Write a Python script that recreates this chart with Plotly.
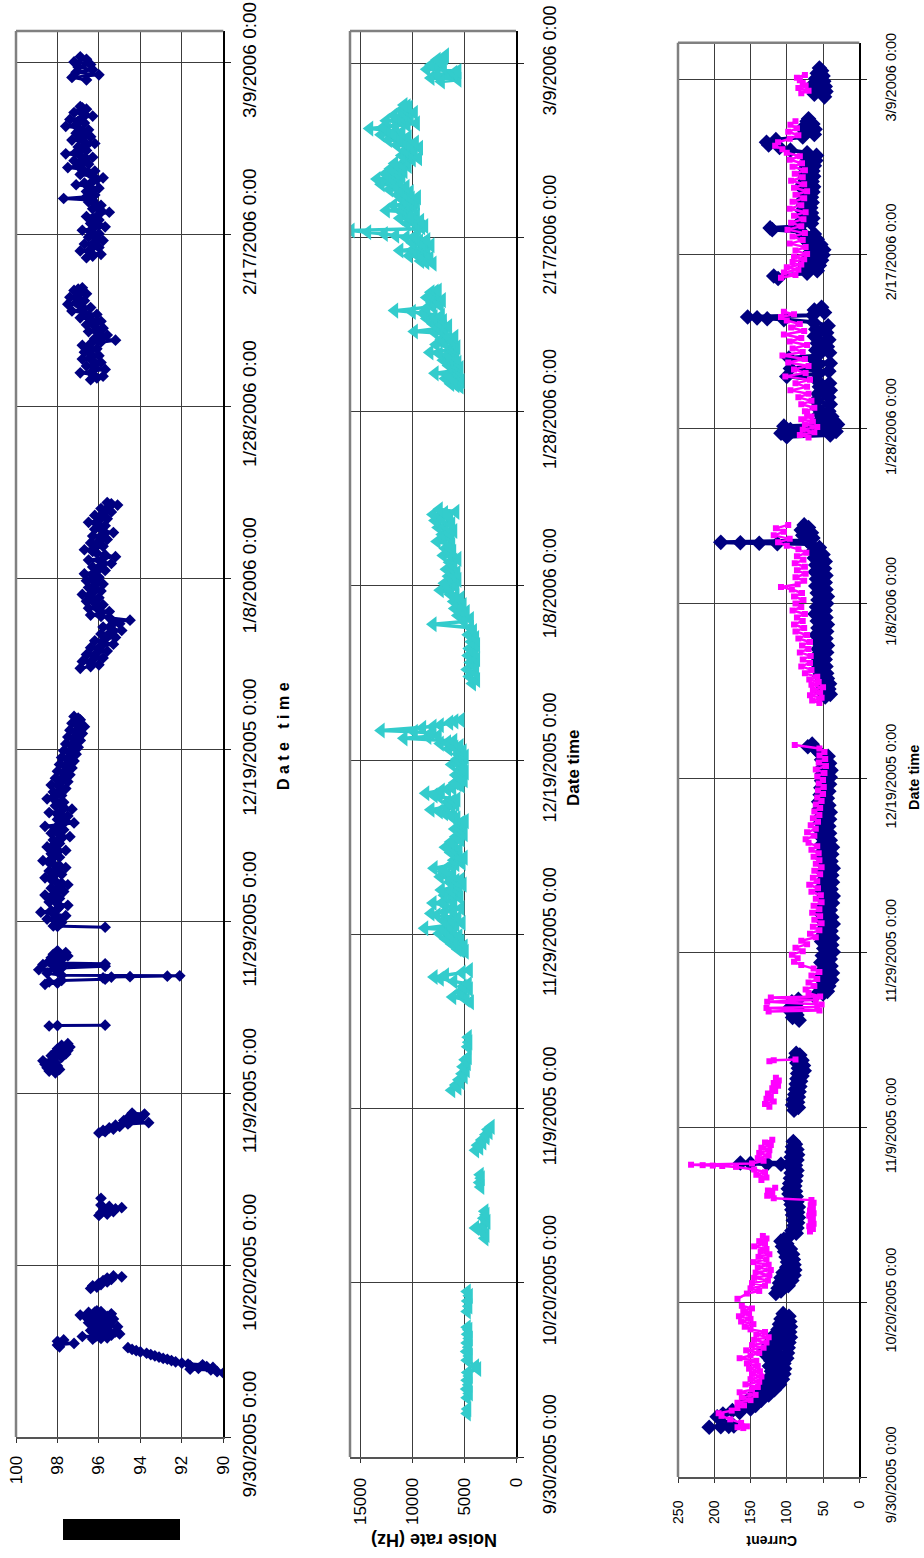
import plotly.graph_objects as go
import pandas as pd

# ---------------- data (day = days after 9/30/2005 0:00) ----------------
BASE = pd.Timestamp("2005-09-30")

tick_days = [0, 20, 40, 60, 80, 100, 120, 140, 160]
tick_text = ["9/30/2005 0:00", "10/20/2005 0:00", "11/9/2005 0:00", "11/29/2005 0:00",
             "12/19/2005 0:00", "1/8/2006 0:00", "1/28/2006 0:00", "2/17/2006 0:00",
             "3/9/2006 0:00"]

# Panel 1 (navy diamonds), value axis 90..100
p1_a = [(7.45, 90.0), (7.6, 90.3), (7.8, 90.6), (7.9, 91.6), (8.0, 91.2), (8.1, 90.5), (8.2, 90.8),
        (8.3, 91.6), (8.4, 91.0), (8.5, 91.7), (8.6, 92.0), (8.75, 92.3), (8.9, 92.5), (9.05, 92.7),
        (9.15, 92.9), (9.3, 93.1), (9.45, 93.3), (9.6, 93.5), (9.75, 93.7), (9.9, 94.0), (10.05, 94.2),
        (10.2, 94.4), (10.4, 94.6)]
p1_b = [(10.5, 97.9), (10.7, 98.0), (10.9, 97.2), (11.0, 97.8), (11.15, 98.0), (11.3, 97.7)]
p1_c = [(11.4, 96.3), (11.55, 95.6), (11.7, 96.8), (11.85, 95.4), (12.0, 95.0), (12.1, 96.1), (12.25, 95.2),
        (12.4, 96.4), (12.55, 95.6), (12.7, 96.0), (12.85, 95.1), (13.0, 96.3), (13.15, 95.5), (13.3, 96.5),
        (13.45, 95.4), (13.6, 96.2), (13.75, 95.3), (13.9, 96.6), (14.05, 95.6), (14.2, 96.9), (14.35, 95.4),
        (14.5, 96.5), (14.6, 95.9), (14.7, 96.1)]
p1_c_in = [(11.47, 95.9), (11.62, 96.2), (11.77, 96.1), (11.92, 95.8), (12.17, 95.7), (12.32, 95.8),
           (12.47, 96.0), (12.62, 95.8), (12.77, 95.6), (12.92, 95.7), (13.07, 95.9), (13.22, 96.0),
           (13.37, 95.9), (13.52, 95.8), (13.67, 95.8), (13.82, 96.0), (13.97, 96.1), (14.12, 96.3),
           (14.27, 96.2), (14.42, 95.9), (14.55, 96.2)]
p1_d = [(17.3, 96.4), (17.45, 96.1), (17.6, 96.3), (17.75, 95.9), (17.9, 96.0), (18.05, 95.6), (18.2, 95.8),
        (18.35, 95.4), (18.5, 95.6), (18.65, 94.9), (18.75, 95.3)]
p1_e = [(25.8, 96.0), (25.95, 95.6), (26.1, 95.9), (26.25, 95.3), (26.4, 95.7), (26.55, 95.2), (26.7, 94.9),
        (26.85, 95.5), (27.0, 95.9)]
p1_e2 = [(27.8, 95.9)]
p1_f = [(35.4, 96.0), (35.55, 95.7), (35.7, 95.8), (35.85, 95.3), (36.0, 95.5), (36.15, 95.0), (36.3, 95.2),
        (36.45, 94.6), (36.6, 93.6), (36.7, 94.5), (36.85, 94.8), (37.0, 94.2), (37.15, 94.6), (37.3, 93.9),
        (37.45, 94.3), (37.6, 93.8), (37.7, 94.4)]
p1_g = [(42.4, 98.1), (42.6, 98.4), (42.8, 97.9), (43.0, 98.5), (43.2, 98.0), (43.4, 98.6), (43.6, 98.1),
        (43.8, 98.7), (44.0, 98.2), (44.2, 97.8), (44.4, 98.3), (44.6, 97.6), (44.8, 98.1), (45.0, 97.5),
        (45.2, 98.0), (45.4, 97.4), (45.6, 97.8), (45.8, 97.5)]
p1_h = [(47.85, 98.4), (47.9, 98.0), (47.95, 95.7)]
p1_i = [(52.7, 98.6), (52.85, 98.0), (53.0, 98.4), (53.15, 97.8), (53.3, 95.7), (53.45, 95.8), (53.55, 95.4),
        (53.6, 94.5), (53.65, 92.7), (53.7, 92.1), (53.75, 97.8), (54.0, 98.5), (54.2, 98.0), (54.4, 98.9),
        (54.6, 97.8), (54.8, 95.7), (54.9, 98.2), (55.0, 98.7), (55.1, 95.7), (55.2, 98.0), (55.4, 98.4),
        (55.6, 97.8), (55.8, 98.3), (56.0, 97.5), (56.2, 98.2), (56.4, 97.6), (56.6, 98.0)]
p1_j = [(59.35, 95.7), (59.45, 98.0), (59.5, 98.2), (59.9, 97.8), (60.3, 98.5), (60.7, 97.6), (61.1, 98.8),
        (61.5, 98.0), (61.9, 97.5), (62.3, 98.4), (62.7, 97.9), (63.1, 98.6), (63.5, 97.7), (63.9, 98.3),
        (64.3, 97.5), (64.7, 98.1), (65.1, 98.6), (65.5, 97.8), (65.9, 98.4), (66.3, 97.6), (66.7, 98.2),
        (67.1, 98.7), (67.5, 97.9), (67.9, 98.3), (68.3, 97.6), (68.7, 98.5), (69.1, 97.9), (69.5, 98.2),
        (69.9, 97.4), (70.3, 98.3), (70.7, 97.7), (71.1, 98.6), (71.5, 97.2), (71.9, 98.0), (72.3, 97.5),
        (72.7, 98.4), (73.1, 97.3), (73.5, 98.1), (73.9, 97.7), (74.3, 98.5), (74.7, 97.8), (75.1, 98.2),
        (75.5, 97.6), (75.9, 98.3), (76.3, 97.5), (76.7, 98.1), (77.1, 97.4), (77.5, 98.0), (77.9, 97.3),
        (78.3, 97.9), (78.7, 97.2), (79.1, 97.8), (79.5, 97.1), (79.9, 97.7), (80.3, 97.0), (80.7, 97.6),
        (81.1, 96.9), (81.5, 97.5), (81.9, 96.8), (82.3, 97.4), (82.7, 96.7), (83.1, 97.3), (83.5, 96.9),
        (83.9, 97.2)]
p1_j_in = [(59.7, 98.0), (60.1, 98.1), (60.5, 98.0), (60.9, 98.2), (61.3, 98.3), (61.7, 97.9), (62.1, 98.0),
           (62.5, 98.1), (62.9, 98.2), (63.3, 98.1), (63.7, 98.0), (64.1, 97.9), (64.5, 97.8), (64.9, 98.3),
           (65.3, 98.2), (65.7, 98.1), (66.1, 98.0), (66.5, 97.9), (66.9, 98.4), (67.3, 98.3), (67.7, 98.1),
           (68.1, 98.0), (68.5, 98.1), (68.9, 98.2), (69.3, 98.0), (69.7, 97.8), (70.1, 97.9), (70.5, 98.0),
           (70.9, 98.1), (71.3, 97.9), (71.7, 97.6), (72.1, 97.7), (72.5, 98.0), (72.9, 97.8), (73.3, 97.7),
           (73.7, 97.9), (74.1, 98.1), (74.5, 98.2), (74.9, 98.0), (75.3, 97.9), (75.7, 97.9), (76.1, 97.9),
           (76.5, 97.8), (76.9, 97.7), (77.3, 97.7), (77.7, 97.6), (78.1, 97.6), (78.5, 97.5), (78.9, 97.5),
           (79.3, 97.4), (79.7, 97.4), (80.1, 97.3), (80.5, 97.3), (80.9, 97.2), (81.3, 97.2), (81.7, 97.1),
           (82.1, 97.1), (82.5, 97.0), (82.9, 97.0), (83.3, 97.1), (83.7, 97.0)]
p1_k = [(89.5, 96.9), (89.9, 96.0), (90.3, 96.8), (90.7, 95.8), (91.1, 96.6), (91.5, 95.6), (91.9, 96.4),
        (92.3, 95.3), (92.7, 96.2), (93.1, 95.2), (93.5, 95.9), (93.9, 94.9), (94.3, 95.8), (94.7, 95.0),
        (95.1, 94.5), (95.4, 95.5), (95.7, 96.4), (96.1, 95.5), (96.5, 96.5), (96.9, 95.8), (97.3, 96.6),
        (97.7, 96.0), (98.1, 96.8), (98.5, 95.9), (98.9, 96.5), (99.3, 95.8), (99.7, 96.6), (100.1, 96.0),
        (100.5, 96.7), (100.9, 95.7), (101.3, 96.3), (101.7, 95.4), (102.1, 96.5), (102.5, 95.2),
        (102.9, 96.1), (103.3, 96.7), (103.7, 95.8), (104.1, 96.4), (104.5, 95.6), (104.9, 96.3),
        (105.3, 95.3), (105.7, 96.2), (106.1, 95.7), (106.5, 96.5), (106.9, 95.6), (107.3, 96.2),
        (107.7, 95.4), (108.1, 95.9), (108.5, 95.1), (108.8, 95.6)]
p1_k_in = [(89.7, 96.4), (90.1, 96.4), (90.5, 96.3), (90.9, 96.2), (91.3, 96.1), (91.7, 96.0), (92.1, 95.9),
           (92.5, 95.8), (92.9, 95.7), (93.3, 95.6), (93.7, 95.4), (94.1, 95.4), (94.5, 95.4), (94.9, 95.3),
           (95.55, 95.9), (95.9, 95.9), (96.3, 96.0), (96.7, 96.1), (97.1, 96.2), (97.5, 96.3), (97.9, 96.4),
           (98.3, 96.3), (98.7, 96.2), (99.1, 96.2), (99.5, 96.2), (99.9, 96.3), (100.3, 96.3), (100.7, 96.2),
           (101.1, 96.0), (101.5, 95.9), (101.9, 95.9), (102.3, 95.8), (102.7, 95.7), (103.1, 96.3),
           (103.5, 96.2), (103.9, 96.1), (104.3, 96.0), (104.7, 95.9), (105.1, 95.8), (105.5, 95.8),
           (105.9, 95.9), (106.3, 96.1), (106.7, 96.0), (107.1, 95.9), (107.5, 95.8), (107.9, 95.7),
           (108.3, 95.5), (108.65, 95.4)]
p1_l = [(123.1, 96.4), (123.5, 95.8), (123.9, 96.9), (124.3, 95.7), (124.7, 96.6), (125.1, 95.9),
        (125.5, 96.8), (125.9, 96.0), (126.3, 96.7), (126.7, 96.1), (127.1, 96.8), (127.5, 95.9),
        (127.7, 95.2), (127.9, 96.2), (128.3, 95.6), (128.7, 96.5), (129.1, 95.8), (129.5, 96.6),
        (129.9, 95.9), (130.3, 96.9), (130.7, 96.1), (131.1, 97.3), (131.5, 96.4), (131.9, 97.5),
        (132.3, 96.7), (132.7, 97.4), (133.1, 96.6), (133.5, 97.2), (133.8, 96.8)]
p1_l_in = [(123.3, 96.1), (123.7, 96.3), (124.1, 96.3), (124.5, 96.2), (124.9, 96.2), (125.3, 96.3),
           (125.7, 96.4), (126.1, 96.4), (126.5, 96.4), (126.9, 96.5), (127.3, 96.4), (128.1, 95.9),
           (128.5, 96.0), (128.9, 96.1), (129.3, 96.2), (129.7, 96.2), (130.1, 96.4), (130.5, 96.5),
           (130.9, 96.7), (131.3, 96.8), (131.7, 96.9), (132.1, 97.1), (132.5, 97.0), (132.9, 97.0),
           (133.3, 96.9), (133.65, 97.0)]
p1_m = [(137.3, 96.6), (137.7, 95.9), (138.1, 96.9), (138.5, 96.0), (138.9, 96.7), (139.3, 95.8),
        (139.7, 96.5), (140.1, 96.0), (140.5, 96.8), (140.9, 95.7), (141.3, 96.4), (141.7, 96.0),
        (142.1, 96.6), (142.6, 95.5), (143.0, 96.3), (143.4, 95.9), (143.8, 96.5), (144.2, 97.7),
        (144.6, 96.2), (145.0, 96.6), (145.4, 96.0), (145.8, 97.1), (146.2, 96.3), (146.6, 95.8),
        (147.0, 96.9), (147.4, 96.2), (147.8, 97.5), (148.2, 96.5), (148.6, 97.2), (149.0, 96.3),
        (149.4, 97.6), (149.8, 96.6), (150.2, 97.0), (150.6, 96.2), (151.0, 97.3), (151.4, 96.4),
        (151.8, 97.1), (152.2, 96.5), (152.6, 97.6), (153.0, 96.7), (153.4, 97.4), (153.8, 96.3),
        (154.2, 97.2), (154.6, 96.6), (154.9, 96.9)]
p1_m_in = [(137.5, 96.3), (137.9, 96.4), (138.3, 96.4), (138.7, 96.3), (139.1, 96.2), (139.5, 96.1),
           (139.9, 96.2), (140.3, 96.4), (140.7, 96.3), (141.1, 96.0), (141.5, 96.2), (141.9, 96.3),
           (142.35, 96.0), (142.8, 95.9), (143.2, 96.1), (143.6, 96.2), (144.0, 96.3), (144.4, 96.6),
           (144.8, 96.4), (145.2, 96.3), (145.6, 96.5), (146.0, 96.7), (146.4, 96.1), (146.8, 96.3),
           (147.2, 96.5), (147.6, 96.8), (148.0, 97.0), (148.4, 96.8), (148.8, 96.7), (149.2, 96.9),
           (149.6, 97.1), (150.0, 96.8), (150.4, 96.6), (150.8, 96.7), (151.2, 96.9), (151.6, 96.7),
           (152.0, 96.8), (152.4, 97.0), (152.8, 97.1), (153.2, 97.0), (153.6, 96.8), (154.0, 96.7),
           (154.4, 96.9), (154.75, 96.8)]
p1_n = [(158.0, 96.6), (158.3, 97.3), (158.6, 96.0), (158.9, 97.1), (159.2, 96.3), (159.5, 97.0),
        (159.8, 96.4), (160.1, 97.2), (160.4, 96.6), (160.7, 96.9)]

# Panel 2 (turquoise triangles), noise rate in Hz
p2_a = [(5.0, 4700), (5.5, 4650)]
p2_b = [(6.8, 4700), (7.3, 4500), (7.8, 4750), (8.3, 4550), (8.8, 4700), (9.3, 4500), (9.7, 4650),
        (10.1, 3700), (10.4, 3900), (11.1, 4700), (11.6, 4500), (12.1, 4750), (12.6, 4550), (13.1, 4700),
        (13.6, 4500), (14.1, 4650), (14.6, 4550), (14.9, 4700)]
p2_c = [(16.7, 4700), (17.3, 4550), (17.9, 4650), (18.5, 4500), (19.0, 4700)]
p2_d = [(25.1, 3000), (25.5, 2900), (25.9, 3300), (26.3, 3900), (26.6, 3100), (27.0, 2800), (27.4, 3100),
        (27.8, 2900), (28.2, 3000)]
p2_e = [(31.0, 3400), (31.5, 3500), (32.0, 3350), (32.4, 3450)]
p2_f = [(35.2, 3900), (35.5, 3500), (35.8, 3700), (36.1, 3200), (36.4, 3300), (36.7, 2900), (37.0, 2900),
        (37.3, 2600), (37.6, 2700), (37.9, 2400)]
p2_g = [(42.1, 6200), (42.4, 5600), (42.7, 5800), (43.0, 5300), (43.3, 5500), (43.7, 5000), (44.0, 5200),
        (44.4, 4800), (44.8, 5100), (45.2, 4700), (45.6, 4900), (45.9, 4600)]
p2_h = [(47.1, 4650), (47.6, 4550), (48.2, 4600)]
p2_i = [(52.2, 4400), (52.5, 4800), (52.8, 6100), (53.1, 5000), (53.4, 5400), (53.7, 4500), (54.0, 5100),
        (54.3, 4600), (54.6, 6000), (54.9, 7300), (55.1, 7900), (55.3, 6800), (55.6, 5200), (55.9, 4500)]
p2_j = [(58.0, 4900), (58.3, 5600), (58.6, 5000), (58.9, 6200), (59.2, 5300), (59.5, 6800), (59.8, 5500),
        (60.1, 7400), (60.4, 6000), (60.7, 8800), (61.0, 6500), (61.3, 5200), (61.6, 7000), (61.9, 5600),
        (62.2, 7600), (62.4, 8200), (62.7, 6100), (63.0, 5300), (63.3, 6800), (63.6, 8000), (63.9, 6200),
        (64.2, 5400), (64.5, 6900), (64.8, 5500), (65.1, 7200), (65.4, 6000), (65.7, 5100), (66.0, 6400),
        (66.3, 5300), (66.6, 7300), (66.9, 6100), (67.2, 7000), (67.6, 7900), (67.9, 6300), (68.2, 5200),
        (68.5, 6000), (68.8, 5000), (69.1, 5600), (69.4, 6300), (69.7, 5500), (70.0, 6800), (70.3, 5900),
        (70.6, 6300), (70.9, 5300), (71.2, 5800), (71.5, 5000), (71.8, 5500), (72.1, 5900), (72.4, 5100),
        (72.7, 5400), (73.0, 4900), (73.3, 5700), (73.6, 6300), (73.9, 6900), (74.3, 8200), (74.6, 6700),
        (74.9, 5800), (75.2, 6600), (75.5, 5700), (75.8, 7400), (76.2, 8700), (76.5, 7200), (76.8, 6100),
        (77.1, 5300), (77.4, 5900), (77.7, 5000), (78.0, 5500), (78.3, 5800), (78.6, 4900), (78.9, 5400),
        (79.2, 5000), (79.5, 6200), (79.8, 5300), (80.1, 5700), (80.4, 4900), (80.7, 5600), (81.0, 5100),
        (81.3, 6500), (81.6, 5400), (81.9, 7300), (82.2, 6000), (82.5, 10800), (82.8, 7500), (83.1, 8200),
        (83.4, 13000), (83.7, 9000), (84.0, 7300), (84.3, 6400), (84.6, 5300)]
p2_j_in = [(58.15, 5300), (58.75, 5600), (59.35, 6000), (59.95, 6400), (60.55, 7000), (61.15, 5800),
           (61.75, 6300), (62.55, 6900), (63.15, 6000), (63.75, 7000), (64.35, 6100), (64.95, 6200),
           (65.55, 5600), (66.15, 5800), (66.75, 6700), (67.4, 6900), (68.05, 5800), (68.65, 5500),
           (69.25, 5900), (69.85, 6100), (70.45, 6100), (71.05, 5500), (71.65, 5300), (72.25, 5500),
           (72.85, 5200), (73.45, 6000), (74.1, 7400), (74.75, 6200), (75.35, 6100), (75.95, 7900),
           (76.65, 6600), (77.25, 5600), (77.85, 5200), (78.45, 5300), (79.05, 5200), (79.65, 5700),
           (80.25, 5300), (80.85, 5300), (81.45, 5900), (82.05, 6600), (82.65, 8500), (83.25, 9800),
           (83.85, 8000), (84.45, 5900)]
p2_k = [(88.8, 4200), (89.2, 3800), (89.6, 4500), (90.0, 3900), (90.4, 4700), (90.8, 3900), (91.2, 4400),
        (91.6, 3800), (92.0, 4600), (92.4, 4000), (92.8, 4500), (93.2, 3800), (93.6, 4300), (94.0, 3900),
        (94.4, 4600), (94.8, 4100), (95.2, 4400), (95.6, 8000), (95.9, 5000), (96.2, 4400), (96.6, 5600),
        (97.0, 4800), (97.4, 5900), (97.8, 5100), (98.2, 6000), (98.6, 5300), (99.0, 6300), (99.5, 7300),
        (99.9, 5800), (100.3, 6900), (100.7, 5600), (101.1, 6500), (101.5, 5700), (101.9, 6700),
        (102.3, 6000), (102.7, 6400), (103.1, 5600), (103.5, 7000), (103.9, 6100), (104.3, 6800),
        (104.7, 6200), (105.1, 7600), (105.5, 6300), (105.9, 7100), (106.3, 6000), (106.7, 7500),
        (107.1, 6200), (107.5, 7800), (107.9, 6400), (108.2, 8000), (108.5, 5800), (108.8, 7400)]
p2_k_in = [(96.4, 5000), (97.2, 5300), (98.0, 5500), (98.8, 5800), (99.7, 6500), (100.5, 6200),
           (101.3, 6100), (102.1, 6300), (102.9, 6000), (103.7, 6500), (104.5, 6500), (105.3, 6900),
           (106.1, 6500), (106.9, 6800), (107.7, 7100), (108.35, 6900)]
p2_l = [(122.9, 5400), (123.2, 6300), (123.5, 5300), (123.8, 6800), (124.1, 5500), (124.4, 7800),
        (124.7, 6000), (125.0, 5400), (125.3, 6500), (125.6, 5600), (125.9, 7000), (126.2, 5800),
        (126.5, 6600), (126.8, 8300), (127.1, 6300), (127.4, 5700), (127.7, 7700), (128.0, 6200),
        (128.3, 7200), (128.6, 5900), (128.9, 6800), (129.2, 9800), (129.5, 7400), (129.8, 6500),
        (130.1, 8000), (130.4, 7000), (130.7, 8600), (131.0, 7200), (131.3, 9000), (131.6, 11700),
        (131.9, 8600), (132.2, 7300), (132.5, 8100), (132.8, 7100), (133.1, 8600), (133.4, 7600),
        (133.7, 8200), (133.9, 7500)]
p2_l_in = [(123.05, 5800), (123.65, 6000), (124.25, 6600), (124.85, 5700), (125.45, 6000), (126.05, 6400),
           (126.65, 7400), (127.25, 6000), (127.85, 6900), (128.45, 6500), (129.05, 7800), (129.65, 7000),
           (130.25, 7500), (130.85, 7900), (131.45, 10000), (132.05, 8000), (132.65, 7600), (133.25, 8100),
           (133.8, 7800)]
p2_m = [(137.0, 8000), (137.3, 9200), (137.6, 8300), (137.9, 10300), (138.2, 8600), (138.5, 11200),
        (138.8, 9000), (139.1, 8200), (139.4, 10000), (139.7, 8600), (140.0, 10600), (140.2, 11600),
        (140.4, 12700), (140.6, 14300), (140.8, 15900), (141.0, 9500), (141.3, 8800), (141.6, 10500),
        (141.9, 9200), (142.2, 11200), (142.5, 9600), (142.8, 10900), (143.1, 12500), (143.4, 9800),
        (143.7, 11800), (144.0, 9600), (144.3, 10900), (144.6, 9500), (144.9, 11400), (145.2, 10200),
        (145.5, 12200), (145.8, 10600), (146.1, 13000), (146.4, 11200), (146.7, 13400), (147.0, 11000),
        (147.3, 12600), (147.6, 10800), (147.9, 12100), (148.2, 10400), (148.5, 11700), (148.8, 10600),
        (149.1, 9400), (149.4, 11000), (149.7, 9800), (150.0, 10700), (150.3, 9300), (150.6, 11500),
        (150.9, 9700), (151.2, 12300), (151.5, 10400), (151.8, 13000), (152.1, 11000), (152.5, 14100),
        (152.8, 11600), (153.1, 9600), (153.4, 12500), (153.7, 10200), (154.0, 11800), (154.3, 9800),
        (154.6, 11100), (154.9, 10300), (155.2, 10800)]
p2_m_in = [(137.15, 8700), (137.45, 8800), (137.75, 9300), (138.05, 9400), (138.35, 9800), (138.65, 9900),
           (138.95, 8600), (139.25, 9100), (139.55, 9300), (139.85, 9600), (140.1, 9800), (141.15, 9100),
           (141.45, 9600), (141.75, 9800), (142.05, 10100), (142.35, 10300), (142.65, 10200),
           (142.95, 10800), (143.25, 10900), (143.55, 10700), (143.85, 10600), (144.15, 10200),
           (144.45, 10100), (144.75, 10400), (145.05, 10800), (145.35, 11100), (145.65, 11300),
           (145.95, 11700), (146.25, 12000), (146.55, 12200), (146.85, 12100), (147.15, 11700),
           (147.45, 11600), (147.75, 11400), (148.05, 11200), (148.35, 11000), (148.65, 10500),
           (148.95, 10000), (149.25, 10200), (149.55, 10300), (149.85, 10200), (150.15, 10000),
           (150.45, 10300), (150.75, 10500), (151.05, 10900), (151.35, 11300), (151.65, 11600),
           (151.95, 11900), (152.3, 12400), (152.65, 12800), (152.95, 10500), (153.25, 11000),
           (153.55, 11200), (153.85, 11000), (154.15, 10800), (154.45, 10400), (154.75, 10700),
           (155.05, 10500)]
p2_n = [(157.9, 7200), (158.1, 5600), (158.3, 8200), (158.5, 5700), (158.7, 7600), (158.9, 6000),
        (159.1, 5600), (159.3, 8600), (159.5, 7000), (159.8, 8200), (160.1, 7100), (160.4, 7600),
        (160.7, 6900), (160.9, 6800)]

# Panel 3, navy diamonds (current)
p3n_a = [(5.7, 207), (5.75, 191), (5.8, 180), (5.85, 173), (6.9, 196), (7.2, 188), (7.4, 165), (7.6, 175),
         (7.8, 150), (8.0, 162), (8.2, 143), (8.5, 158), (8.8, 135), (9.1, 150), (9.4, 125), (9.7, 140),
         (10.0, 117), (10.3, 135), (10.6, 110), (10.9, 128), (11.2, 106), (11.5, 123), (11.8, 104),
         (12.1, 121), (12.4, 103), (12.7, 124), (13.0, 104), (13.3, 122), (13.6, 100), (13.9, 128),
         (14.2, 99), (14.5, 131), (14.8, 98), (15.1, 125), (15.4, 97), (15.7, 120), (16.0, 95), (16.3, 117),
         (16.6, 96), (16.9, 112), (17.2, 95), (17.5, 110), (17.8, 96), (18.1, 108), (18.4, 97), (18.7, 105)]
p3n_b = [(21.0, 115), (21.3, 108), (21.6, 112), (21.9, 98), (22.2, 110), (22.5, 93), (22.8, 108), (23.1, 90),
         (23.4, 105), (23.7, 89), (24.0, 100), (24.3, 90), (24.6, 99), (24.9, 91), (25.2, 101), (25.5, 92),
         (25.8, 103), (26.1, 95), (26.4, 106), (26.7, 100), (27.0, 108), (27.2, 104), (27.6, 96), (27.9, 87),
         (28.2, 93), (28.5, 86), (28.8, 90), (29.1, 85), (29.4, 91), (29.7, 84), (30.0, 92), (30.3, 85),
         (30.6, 93), (30.9, 84), (31.2, 94), (31.5, 86), (31.8, 96), (32.1, 87), (32.4, 97), (32.7, 88),
         (33.0, 98), (33.3, 89), (33.6, 96), (33.9, 88), (34.2, 95), (34.5, 87), (34.8, 94), (35.1, 86),
         (35.4, 93), (35.7, 88), (35.8, 108), (35.85, 127), (35.9, 150), (35.95, 164), (36.0, 95),
         (36.3, 86), (36.6, 94), (36.9, 85), (37.2, 93), (37.5, 86), (37.8, 92), (38.1, 88), (38.4, 91)]
p3n_c = [(42.0, 90), (42.3, 84), (42.6, 92), (42.9, 85), (43.2, 91), (43.5, 84), (43.8, 89), (44.1, 83),
         (44.4, 88), (44.7, 82), (45.0, 87), (45.3, 81), (45.6, 86), (45.9, 79), (46.2, 85), (46.5, 76),
         (46.8, 84), (47.1, 77), (47.4, 86), (47.7, 79), (48.0, 88), (48.3, 82), (48.5, 87)]
p3n_d = [(52.3, 83), (52.6, 92), (52.9, 86), (53.2, 94), (53.5, 85), (53.8, 95), (54.1, 87), (54.4, 93),
         (54.7, 84), (55.0, 62), (55.3, 50), (55.6, 44), (55.9, 53), (56.2, 42), (56.5, 50), (56.9, 38),
         (57.3, 52), (57.7, 37), (58.1, 50), (58.5, 39), (58.9, 53), (59.3, 40), (59.7, 51), (60.1, 36),
         (60.5, 49), (60.9, 38), (61.3, 52), (61.7, 37), (62.1, 50), (62.5, 39), (62.9, 48), (63.3, 36),
         (63.7, 51), (64.1, 38), (64.5, 53), (64.9, 40), (65.3, 50), (65.7, 37), (66.1, 49), (66.5, 36),
         (66.9, 52), (67.3, 39), (67.7, 50), (68.1, 37), (68.5, 48), (68.9, 38), (69.3, 51), (69.7, 36),
         (70.1, 49), (70.5, 39), (70.9, 52), (71.3, 38), (71.7, 50), (72.1, 37), (72.5, 51), (72.9, 40),
         (73.3, 53), (73.7, 41), (74.1, 55), (74.5, 42), (74.9, 54), (75.3, 41), (75.7, 52), (76.1, 40),
         (76.5, 55), (76.9, 42), (77.3, 56), (77.7, 44), (78.1, 54), (78.5, 42), (78.9, 53), (79.3, 41),
         (79.7, 52), (80.1, 40), (80.5, 51), (80.9, 39), (81.3, 50), (81.7, 41), (82.1, 52), (82.5, 43),
         (82.9, 55), (83.3, 60), (83.6, 71), (83.9, 65)]
p3n_e = [(89.3, 47), (89.6, 40), (89.9, 52), (90.2, 42), (90.5, 50), (90.8, 41), (91.1, 51), (91.4, 44),
         (91.7, 55), (92.0, 45), (92.4, 58), (92.8, 46), (93.2, 60), (93.6, 47), (94.0, 59), (94.4, 45),
         (94.8, 57), (95.2, 44), (95.6, 58), (96.0, 46), (96.4, 60), (96.8, 45), (97.2, 57), (97.6, 44),
         (98.0, 58), (98.4, 46), (98.8, 61), (99.2, 47), (99.6, 59), (100.0, 45), (100.4, 57), (100.8, 44),
         (101.2, 58), (101.6, 46), (102.0, 60), (102.4, 47), (102.8, 59), (103.2, 46), (103.6, 61),
         (104.0, 48), (104.4, 60), (104.8, 47), (105.2, 62), (105.6, 50), (106.0, 64), (106.4, 55),
         (106.8, 67), (106.85, 113), (106.9, 138), (106.95, 164), (107.0, 191), (107.2, 72), (107.5, 64),
         (107.8, 78), (108.1, 66), (108.4, 80), (108.7, 70), (109.0, 76)]
p3n_f = [(119.1, 100), (119.3, 40), (119.5, 108), (119.7, 32), (119.9, 95), (120.1, 45), (120.3, 104),
         (120.5, 30), (120.7, 58), (120.9, 35), (121.1, 50), (121.4, 38), (121.7, 55), (122.0, 42),
         (122.4, 58), (122.8, 40), (123.2, 60), (123.6, 42), (124.0, 57), (124.4, 40), (124.8, 55),
         (125.2, 41), (125.6, 59), (126.0, 100), (126.3, 56), (126.6, 42), (126.9, 95), (127.2, 58),
         (127.5, 40), (127.8, 61), (128.1, 97), (128.4, 57), (128.7, 41), (129.0, 60), (129.4, 44),
         (129.8, 58), (130.2, 42), (130.6, 62), (131.0, 45), (131.4, 60), (131.8, 43), (132.2, 63),
         (132.5, 104), (132.6, 127), (132.7, 141), (132.8, 154), (133.0, 64), (133.3, 48), (133.6, 62),
         (133.9, 52)]
p3n_g = [(137.2, 112), (137.5, 118), (137.8, 72), (138.1, 58), (138.4, 76), (138.7, 55), (139.0, 74),
         (139.3, 52), (139.6, 70), (139.9, 50), (140.2, 68), (140.5, 49), (140.8, 65), (141.1, 53),
         (141.4, 72), (141.7, 58), (142.0, 78), (142.3, 62), (142.6, 80), (142.8, 120), (143.0, 123),
         (143.2, 82), (143.5, 66), (143.8, 80), (144.1, 64), (144.4, 78), (144.7, 66), (145.0, 79),
         (145.3, 67), (145.6, 77), (145.9, 65), (146.2, 78), (146.5, 66), (146.8, 76), (147.1, 64),
         (147.4, 77), (147.7, 63), (148.0, 78), (148.3, 65), (148.6, 76), (148.9, 63), (149.2, 77),
         (149.5, 64), (149.8, 75), (150.1, 62), (150.4, 74), (150.7, 60), (151.0, 73), (151.3, 59),
         (151.6, 72), (151.9, 95), (152.2, 110), (152.5, 125), (152.8, 128), (153.1, 115), (153.4, 78),
         (153.7, 62), (154.0, 75), (154.3, 61), (154.6, 76), (154.9, 64), (155.2, 72), (155.5, 70)]
p3n_h = [(158.0, 48), (158.3, 62), (158.6, 46), (158.9, 64), (159.2, 47), (159.5, 63), (159.8, 49),
         (160.1, 60), (160.4, 50), (160.7, 58), (161.0, 52), (161.3, 55)]

# Panel 3, magenta squares (current)
p3m_a = [(5.6, 160), (5.7, 168), (5.8, 155), (6.2, 163), (6.6, 178), (7.0, 190), (7.3, 194), (7.6, 176),
         (7.9, 168), (8.2, 159), (8.5, 168), (8.8, 150), (9.1, 162), (9.4, 143), (9.7, 165), (10.0, 148),
         (10.3, 140), (10.6, 157), (10.9, 138), (11.2, 150), (11.5, 135), (11.8, 148), (12.1, 137),
         (12.4, 152), (12.7, 140), (13.0, 155), (13.3, 142), (13.6, 165), (13.9, 150), (14.2, 138),
         (14.5, 156), (14.8, 132), (15.1, 148), (15.4, 128), (15.7, 145), (16.0, 125), (16.3, 142),
         (16.6, 130), (16.9, 150), (17.2, 158), (17.5, 146), (17.8, 163), (18.1, 150), (18.4, 166),
         (18.7, 152), (19.0, 160), (19.3, 148), (19.6, 162)]
p3m_b = [(20.4, 168), (21.0, 155), (21.3, 138), (21.6, 150), (21.9, 130), (22.2, 148), (22.5, 126),
         (22.8, 145), (23.1, 124), (23.4, 143), (23.7, 122), (24.0, 140), (24.3, 125), (24.6, 146),
         (24.9, 128), (25.2, 139), (25.5, 124), (25.8, 136), (26.1, 128), (26.4, 145), (26.7, 130),
         (27.0, 138), (27.3, 128), (27.6, 133)]
p3m_c = [(28.1, 68), (28.4, 64), (28.7, 69), (29.0, 63), (29.3, 67), (29.6, 64), (29.9, 69), (30.2, 63),
         (30.5, 68), (30.8, 64), (31.1, 67), (31.4, 63), (31.7, 66), (31.9, 118), (32.2, 127), (32.5, 120),
         (32.8, 126), (33.1, 116)]
p3m_d = [(34.0, 135), (34.3, 128), (34.6, 142), (34.9, 130), (35.2, 145), (35.5, 170), (35.6, 189),
         (35.65, 202), (35.7, 216), (35.75, 232), (35.9, 148), (36.2, 132), (36.5, 140), (36.8, 125),
         (37.1, 138), (37.4, 124), (37.7, 135), (38.0, 122), (38.3, 130), (38.6, 120)]
p3m_e = [(42.4, 124), (42.7, 130), (43.0, 118), (43.3, 128), (43.6, 122), (43.9, 126), (44.2, 116),
         (44.5, 120), (44.8, 112), (45.1, 118), (45.4, 111), (45.7, 115)]
p3m_f = [(47.6, 124), (47.7, 118), (47.8, 88)]
p3m_g = [(53.3, 125), (53.4, 55), (53.7, 128), (53.8, 58), (54.1, 52), (54.4, 127), (54.6, 60), (54.9, 122),
         (55.0, 54), (55.4, 70), (55.8, 74), (56.2, 62), (56.6, 70), (57.0, 58), (57.4, 66), (57.8, 55),
         (58.2, 63), (58.6, 80), (59.0, 90), (59.4, 85), (59.8, 93), (60.2, 78), (60.6, 88), (61.0, 72),
         (61.4, 80), (61.8, 60), (62.2, 68), (62.6, 55), (63.0, 64), (63.4, 52), (63.8, 62), (64.2, 54),
         (64.6, 65), (65.0, 55), (65.4, 63), (65.8, 52), (66.2, 60), (66.6, 53), (67.0, 66), (67.4, 57),
         (67.8, 69), (68.2, 58), (68.6, 64), (69.0, 54), (69.4, 62), (69.8, 52), (70.2, 60), (70.6, 55),
         (71.0, 63), (71.4, 56), (71.8, 66), (72.2, 58), (72.6, 70), (73.0, 74), (73.4, 62), (73.8, 72),
         (74.2, 60), (74.6, 67), (75.0, 57), (75.4, 64), (75.8, 55), (76.2, 62), (76.6, 54), (77.0, 60),
         (77.4, 52), (77.8, 58), (78.2, 50), (78.6, 57), (79.0, 49), (79.4, 56), (79.8, 50), (80.2, 58),
         (80.6, 48), (81.0, 60), (81.4, 46), (81.8, 56), (82.2, 47), (82.6, 55), (83.0, 48), (83.4, 55),
         (83.8, 89)]
p3m_h = [(88.6, 55), (88.9, 65), (89.2, 52), (89.5, 68), (89.8, 54), (90.1, 64), (90.4, 50), (90.7, 66),
         (91.0, 56), (91.3, 69), (91.6, 58), (92.0, 75), (92.4, 66), (92.8, 80), (93.2, 68), (93.6, 78),
         (94.0, 67), (94.4, 82), (94.8, 70), (95.2, 79), (95.6, 68), (96.0, 84), (96.4, 72), (96.8, 88),
         (97.2, 76), (97.6, 90), (98.0, 78), (98.4, 86), (98.8, 75), (99.2, 92), (99.6, 80), (100.0, 88),
         (100.4, 77), (100.8, 90), (101.2, 79), (101.6, 93), (101.9, 108), (102.2, 85), (102.6, 76),
         (103.0, 88), (103.4, 74), (103.8, 86), (104.2, 75), (104.6, 89), (105.0, 77), (105.4, 86),
         (105.8, 73), (106.2, 84), (106.6, 100), (107.0, 112), (107.4, 96), (107.8, 118), (108.2, 104),
         (108.6, 115), (109.0, 98)]
p3m_i = [(119.0, 70), (119.3, 82), (119.6, 62), (119.9, 78), (120.2, 58), (120.5, 75), (120.8, 64),
         (121.1, 80), (121.4, 66), (121.7, 72), (122.0, 75), (122.4, 62), (122.8, 80), (123.2, 66),
         (123.6, 84), (124.0, 70), (124.4, 95), (124.8, 72), (125.2, 88), (125.6, 68), (126.0, 102),
         (126.4, 74), (126.8, 90), (127.2, 70), (127.6, 98), (128.0, 75), (128.4, 106), (128.8, 78),
         (129.2, 92), (129.6, 72), (130.0, 96), (130.4, 80), (130.8, 104), (131.2, 76), (131.6, 94),
         (132.0, 82), (132.4, 100), (132.8, 108), (133.1, 90), (133.4, 104)]
p3m_j = [(137.3, 108), (137.6, 88), (137.9, 104), (138.2, 84), (138.5, 100), (138.8, 80), (139.1, 92),
         (139.4, 76), (139.7, 90), (140.0, 72), (140.4, 88), (140.8, 74), (141.2, 96), (141.6, 78),
         (142.0, 92), (142.4, 75), (142.8, 99), (143.2, 80), (143.6, 94), (144.0, 77), (144.4, 90),
         (144.8, 74), (145.2, 96), (145.6, 80), (146.0, 92), (146.4, 76), (146.8, 88), (147.2, 72),
         (147.6, 90), (148.0, 76), (148.4, 94), (148.8, 78), (149.2, 89), (149.6, 75), (150.0, 92),
         (150.4, 79), (150.8, 96), (151.2, 82), (151.6, 100), (152.0, 106), (152.4, 116), (152.8, 112),
         (153.2, 96), (153.6, 84), (154.0, 98), (154.4, 86), (154.8, 95), (155.2, 88)]
p3m_k = [(158.4, 80), (158.7, 70), (159.0, 84), (159.3, 74), (159.6, 78), (159.9, 82), (160.2, 86),
         (160.5, 75)]

p1_ticks = [100, 98, 96, 94, 92, 90]
p2_ticks = [15000, 10000, 5000, 0]
p3_ticks = [250, 200, 150, 100, 50, 0]

# ---------------- helpers ----------------
W, H = 924, 1558
FONT = "Liberation Sans, Arial, sans-serif"


def merged(*parts):
    out = []
    for p in parts:
        out.extend(p)
    return sorted(out)


def join(segments):
    xs, ys = [], []
    for k, seg in enumerate(segments):
        if k:
            xs.append(None)
            ys.append(None)
        for d, v in seg:
            xs.append(v)
            ys.append((BASE + pd.Timedelta(days=d)).strftime("%Y-%m-%d %H:%M:%S"))
    return xs, ys


def px_x(p):
    return p / W


def px_y(p):
    return 1 - p / H


def date_of(d):
    return (BASE + pd.Timedelta(days=d)).strftime("%Y-%m-%d %H:%M:%S")


NAVY = "#000080"
TURQ = "#33CCCC"
MAG = "#FF00FF"
GRID = "#3c3c3c"

fig = go.Figure()

x1, y1 = join([p1_a, p1_b, merged(p1_c, p1_c_in), p1_d, p1_e, p1_e2, p1_f, p1_g, p1_h, p1_i,
               merged(p1_j, p1_j_in), merged(p1_k, p1_k_in), merged(p1_l, p1_l_in),
               merged(p1_m, p1_m_in), p1_n])
fig.add_trace(go.Scatter(x=x1, y=y1, mode="lines+markers", xaxis="x", yaxis="y",
                         line=dict(color=NAVY, width=3),
                         marker=dict(symbol="diamond", size=9, color=NAVY, line=dict(width=0)),
                         showlegend=False, connectgaps=False))

x2, y2 = join([p2_a, p2_b, p2_c, p2_d, p2_e, p2_f, p2_g, p2_h, p2_i, merged(p2_j, p2_j_in),
               merged(p2_k, p2_k_in), merged(p2_l, p2_l_in), merged(p2_m, p2_m_in), p2_n])
fig.add_trace(go.Scatter(x=x2, y=y2, mode="lines+markers", xaxis="x2", yaxis="y2",
                         line=dict(color=TURQ, width=3.5),
                         marker=dict(symbol="triangle-left", size=14, color=TURQ, line=dict(width=0)),
                         showlegend=False, connectgaps=False))

x3, y3 = join([p3n_a, p3n_b, p3n_c, p3n_d, p3n_e, p3n_f, p3n_g, p3n_h])
fig.add_trace(go.Scatter(x=x3, y=y3, mode="lines+markers", xaxis="x3", yaxis="y3",
                         line=dict(color=NAVY, width=4),
                         marker=dict(symbol="diamond", size=12, color=NAVY, line=dict(width=0)),
                         showlegend=False, connectgaps=False))
x4, y4 = join([p3m_a, p3m_b, p3m_c, p3m_d, p3m_e, p3m_f, p3m_g, p3m_h, p3m_i, p3m_j, p3m_k])
fig.add_trace(go.Scatter(x=x4, y=y4, mode="lines+markers", xaxis="x3", yaxis="y3",
                         line=dict(color=MAG, width=2.5),
                         marker=dict(symbol="square", size=6, color=MAG, line=dict(width=0)),
                         showlegend=False, connectgaps=False))

tickvals_dates = [date_of(d) for d in tick_days]

panels = [
    # axis names, plot-area edges in px, value range, ticks, top day, fonts, standoffs
    ("xaxis", "yaxis", "y", "x", 16, 223.3, 31, 1437, [100, 90], p1_ticks, 163.7, 17, 19, 6, 2),
    ("xaxis2", "yaxis2", "y2", "x2", 350, 516, 31, 1457, [16000, 0], p2_ticks, 163.7, 17, 18, 8, 11),
    ("xaxis3", "yaxis3", "y3", "x3", 678, 859.3, 42.7, 1477, [250, 0], p3_ticks, 164.2, 14, 14.5, 12, 12),
]

layout = dict(width=W, height=H, margin=dict(l=0, r=0, t=0, b=0),
              paper_bgcolor="white", plot_bgcolor="white",
              font=dict(family=FONT, color="black"), showlegend=False)
shapes = []
for xa, ya, yref, xref, L, R, T, B, xr, xt, topday, vfs, dfs, vso, dso in panels:
    layout[xa] = dict(domain=[px_x(L), px_x(R)], anchor=yref, range=xr, tickvals=xt,
                      ticktext=[str(v) for v in xt],
                      ticks="outside", ticklen=4, tickcolor="#333", tickwidth=1,
                      tickangle=-90, tickfont=dict(size=vfs, family=FONT, color="black"),
                      showgrid=True, gridcolor=GRID, gridwidth=1, zeroline=False,
                      showline=True, linecolor="#555", linewidth=2, automargin=False,
                      ticklabelstandoff=vso, fixedrange=True)
    layout[ya] = dict(domain=[px_y(B), px_y(T)], anchor=xref, type="date", side="right",
                      range=[date_of(0), date_of(topday)], tickvals=tickvals_dates, ticktext=tick_text,
                      ticks="outside", ticklen=6, tickcolor="#222", tickwidth=1,
                      tickangle=-90, tickfont=dict(size=dfs, family=FONT, color="black"),
                      showgrid=True, gridcolor=GRID, gridwidth=1, zeroline=False,
                      showline=True, linecolor="black", linewidth=1.5, automargin=False,
                      ticklabelstandoff=dso, fixedrange=True)
    # grey plot-area frame on the left and top edges
    shapes.append(dict(type="line", xref="paper", yref="paper", x0=px_x(L), x1=px_x(L),
                       y0=px_y(B), y1=px_y(T), line=dict(color="#808080", width=2.5), layer="above"))
    shapes.append(dict(type="line", xref="paper", yref="paper", x0=px_x(L), x1=px_x(R),
                       y0=px_y(T), y1=px_y(T), line=dict(color="#808080", width=2.5), layer="above"))

# redacted title block of the first panel
shapes.append(dict(type="rect", xref="paper", yref="paper", x0=px_x(63), x1=px_x(180),
                   y0=px_y(1540), y1=px_y(1519), fillcolor="black", line=dict(width=0)))

annotations = [
    dict(text="<b>D a t e   t i m e</b>", x=px_x(284), y=px_y(736), textangle=-90,
         font=dict(size=16, family=FONT, color="black")),
    dict(text="<b>Date time</b>", x=px_x(573), y=px_y(768), textangle=-90,
         font=dict(size=17, family=FONT, color="black")),
    dict(text="<b>Date time</b>", x=px_x(914), y=px_y(778), textangle=-90,
         font=dict(size=14.5, family=FONT, color="black")),
    dict(text="<b>Noise rate (Hz)</b>", x=px_x(434), y=px_y(1540), textangle=180,
         font=dict(size=18, family=FONT, color="black")),
    dict(text="<b>Current</b>", x=px_x(772), y=px_y(1541), textangle=180,
         font=dict(size=14, family=FONT, color="black")),
]
for a in annotations:
    a.update(xref="paper", yref="paper", showarrow=False, xanchor="center", yanchor="middle")

layout["shapes"] = shapes
layout["annotations"] = annotations
fig.update_layout(**layout)

fig.write_html("out.html", config={"displayModeBar": False},
               post_script="document.body.style.margin='0px';document.body.style.overflow='hidden';")
